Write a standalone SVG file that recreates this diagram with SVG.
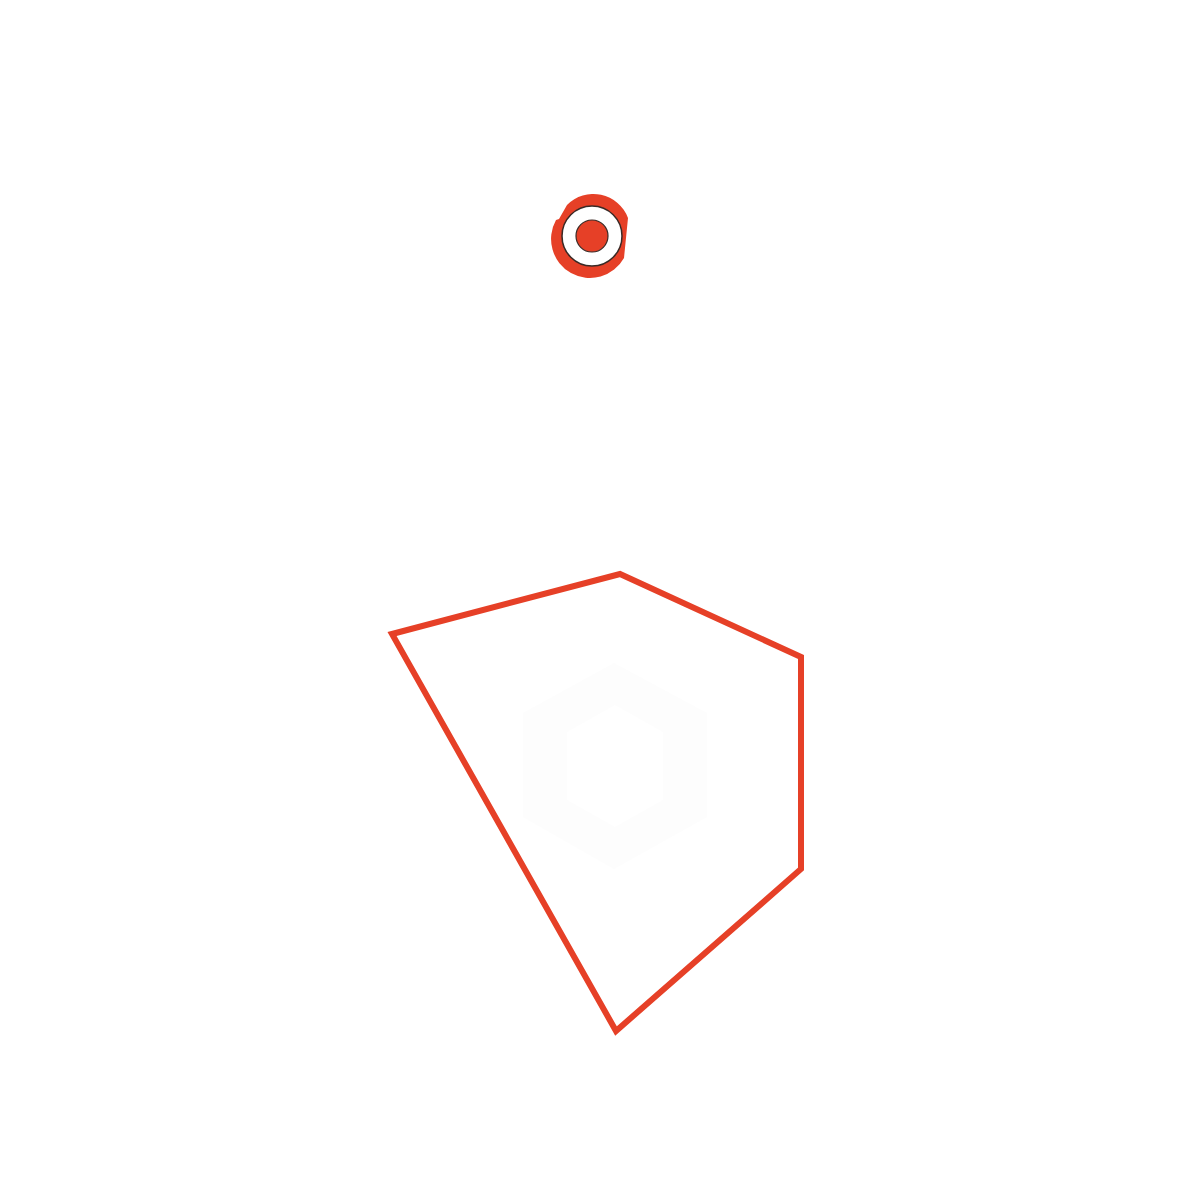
<svg xmlns="http://www.w3.org/2000/svg" width="1200" height="1200" viewBox="0 0 1200 1200">
<style>
.red{fill:#e64027}
.ring{fill:#ffffff;stroke:#3a2a26;stroke-width:1.5}
.dot{fill:#e64027;stroke:#3a2a26;stroke-width:1.2}
.area{fill:none;stroke:#e64027;stroke-width:6;stroke-linejoin:miter}
.ghost{fill:#fdfdfd;fill-rule:evenodd}
</style>
<rect width="1200" height="1200" fill="#ffffff"/>
<g id="ghost-hexagon">
<path class="ghost" d="M614,663 L707,713 L707,817 L614,869 L523,817 L523,713 Z M615,705 L663,732 L663,800 L615,827 L567,800 L567,732 Z"/>
</g>
<g id="area">
<polygon class="area" points="392,634 620,574 801,657 801,869 616,1031"/>
</g>
<g id="marker">
<path class="red" d="M567,205 A37,37 0 0 1 628,218 L624,258 A37,37 0 0 1 556,220 L559,219 Z"/>
<circle class="ring" cx="592" cy="236" r="30"/>
<circle class="dot" cx="592" cy="236" r="16"/>
</g>
<g id="connectors"></g>
</svg>
